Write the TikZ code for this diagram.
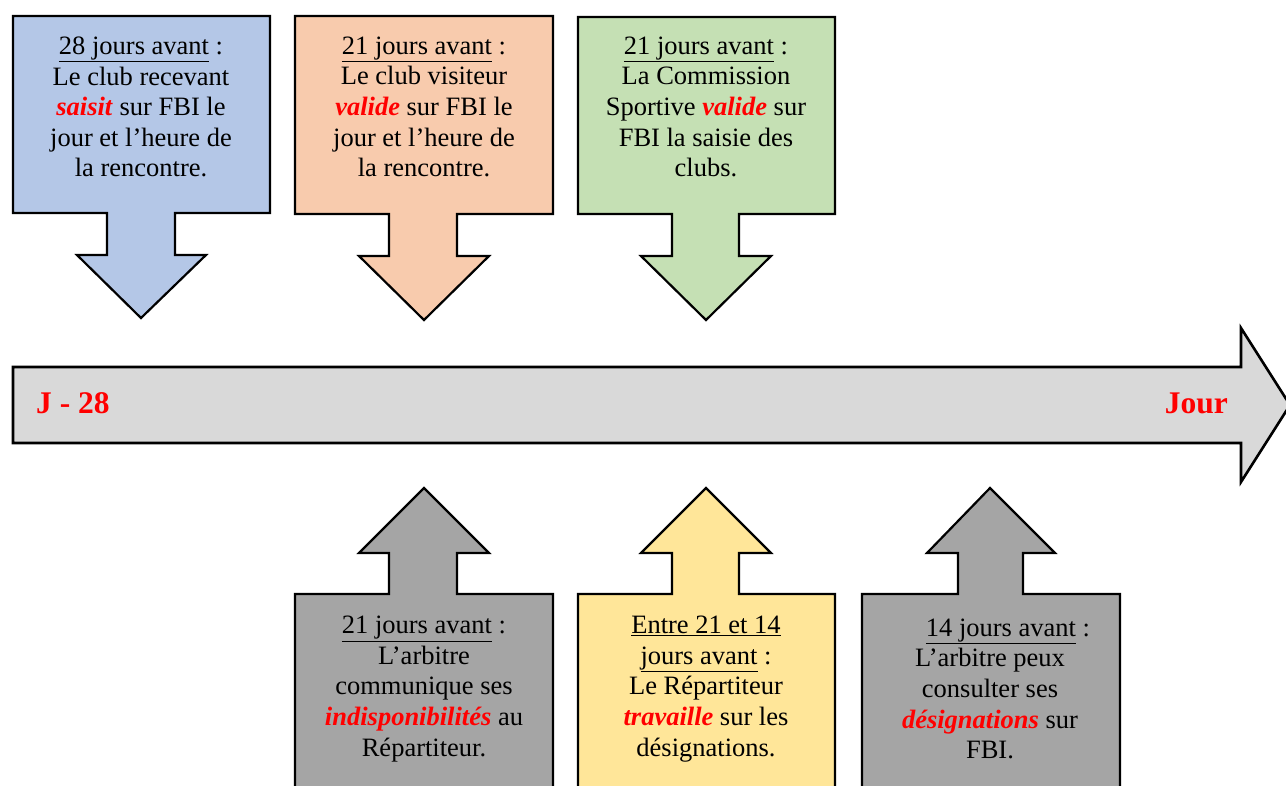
\documentclass[tikz,border=0pt]{standalone}
\usepackage{fontspec}
\setmainfont{Liberation Serif}
\definecolor{cblue}{HTML}{B4C7E7}
\definecolor{cpeach}{HTML}{F8CBAD}
\definecolor{cgreen}{HTML}{C5E0B4}
\definecolor{cgray}{HTML}{A5A5A5}
\definecolor{cyellow}{HTML}{FFE699}
\definecolor{carrow}{HTML}{D9D9D9}
\definecolor{cred}{HTML}{FF0000}
\newcommand\hlw[1]{\textcolor{cred}{\textbf{\textit{#1}}}}
\tikzset{
  callout/.style={draw=black, line width=2.2pt, line join=miter},
  txt/.style={align=center, inner sep=0pt, font=\fontsize{26.5}{30.6}\selectfont},
  lbl/.style={inner sep=0pt, font=\fontsize{31.5}{34}\selectfont\bfseries, text=cred}
}
\begin{document}
\begin{tikzpicture}[x=1pt,y=-1pt]
\useasboundingbox (0,0) rectangle (1286,785);
% main arrow
\draw[fill=carrow, draw=black, line width=2.6pt, line join=miter]
  (13,367) -- (1241,367) -- (1241,328) -- (1290,405) -- (1241,482) -- (1241,443) -- (13,443) -- cycle;
\node[lbl, anchor=base west] (start) at (36,413) {J - 28};
\node[lbl, anchor=base east] (end) at (1228,413) {Jour};
% top callouts (down arrows)
\draw[callout, fill=cblue] (13,16) -- (270,16) -- (270,213) -- (175,213) -- (175,255) -- (206,255) -- (141,318) -- (77,255) -- (107,255) -- (107,213) -- (13,213) -- cycle;
\draw[callout, fill=cpeach] (295,16) -- (553,16) -- (553,214) -- (457,214) -- (457,256) -- (489,256) -- (424,320) -- (359,256) -- (389,256) -- (389,214) -- (295,214) -- cycle;
\draw[callout, fill=cgreen] (578,17) -- (835,17) -- (835,214) -- (739,214) -- (739,256) -- (771,256) -- (706,320) -- (641,256) -- (672,256) -- (672,214) -- (578,214) -- cycle;
% bottom callouts (up arrows)
\draw[callout, fill=cgray] (295,790) -- (295,594) -- (389,594) -- (389,553) -- (359,553) -- (424,488) -- (489,553) -- (457,553) -- (457,594) -- (553,594) -- (553,790);
\draw[callout, fill=cyellow] (578,790) -- (578,594) -- (672,594) -- (672,553) -- (641,553) -- (706,488) -- (771,553) -- (739,553) -- (739,594) -- (835,594) -- (835,790);
\draw[callout, fill=cgray] (862,790) -- (862,594) -- (958,594) -- (958,553) -- (927,553) -- (990,488) -- (1055,553) -- (1023,553) -- (1023,594) -- (1120,594) -- (1120,790);
% texts
\node[txt] (t1) at (141,107) {\underline{28 jours avant} :\\Le club recevant\\\hlw{saisit} sur FBI le\\jour et l’heure de\\la rencontre.};
\node[txt] (t2) at (424,107) {\underline{21 jours avant} :\\Le club visiteur\\\hlw{valide} sur FBI le\\jour et l’heure de\\la rencontre.};
\node[txt] (t3) at (706,107) {\underline{21 jours avant} :\\La Commission\\Sportive \hlw{valide} sur\\FBI la saisie des\\clubs.};
\node[txt] (t4) at (424,689) {\underline{21 jours avant} :\\L’arbitre\\communique ses\\\hlw{indisponibilités} au\\Répartiteur.};
\node[txt] (t5) at (706,689) {\underline{Entre 21 et 14}\\\underline{jours avant} :\\Le Répartiteur\\\hlw{travaille} sur les\\désignations.};
\node[txt] (t6) at (990,689) {\hspace{36pt}\underline{14 jours avant} :\\L’arbitre peux\\consulter ses\\\hlw{désignations} sur\\FBI.};
\end{tikzpicture}
\end{document}
